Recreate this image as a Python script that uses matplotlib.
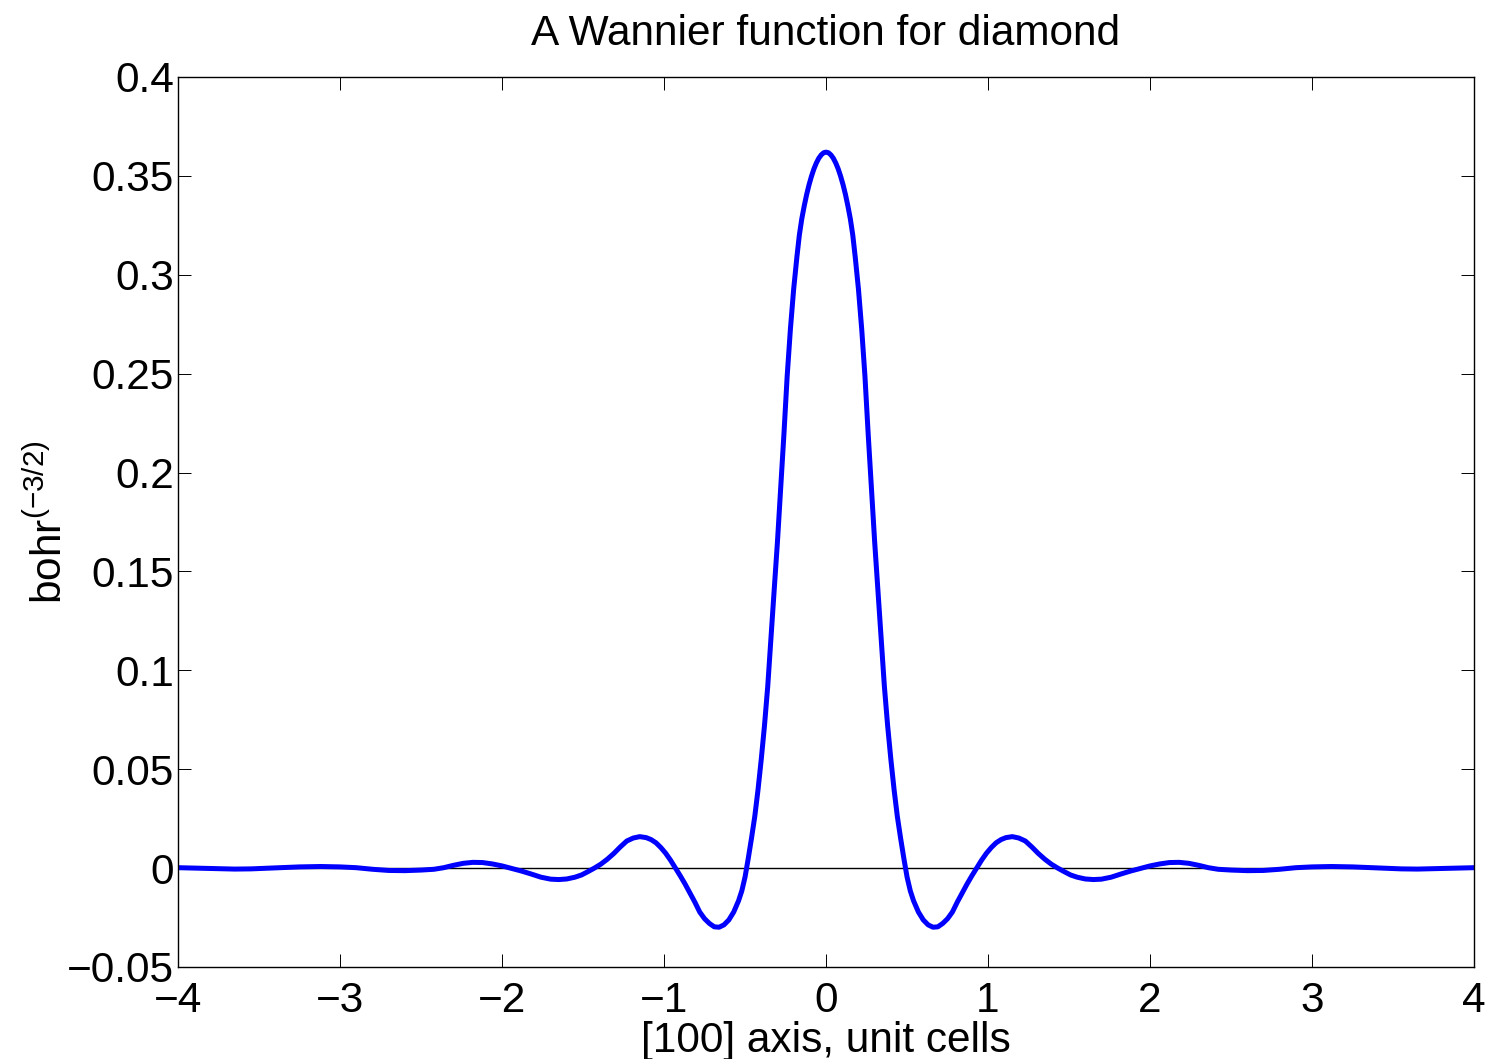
import matplotlib
matplotlib.use("Agg")
import matplotlib.pyplot as plt

# Wannier function values, [100] axis in unit cells
x_right = [0.00, 0.015, 0.03, 0.045, 0.06, 0.075, 0.09, 0.105, 0.12, 0.135,
           0.15, 0.165, 0.18, 0.20, 0.22, 0.24,
           0.26, 0.28, 0.30, 0.32, 0.34, 0.36, 0.38, 0.40, 0.42, 0.44,
           0.46, 0.48, 0.50, 0.52, 0.54, 0.57, 0.60, 0.63, 0.66, 0.69,
           0.72, 0.75, 0.78, 0.81, 0.84, 0.87, 0.90, 0.93, 0.96, 0.99,
           1.02, 1.05, 1.08, 1.11, 1.15, 1.19, 1.23, 1.27, 1.31, 1.35,
           1.39, 1.43, 1.47, 1.51, 1.55, 1.60, 1.65, 1.70, 1.76, 1.82,
           1.88, 1.94, 2.00, 2.06, 2.12, 2.18, 2.24, 2.30, 2.36, 2.42,
           2.50, 2.60, 2.70, 2.80, 2.90, 3.00, 3.12, 3.25, 3.40, 3.55,
           3.65, 3.80, 4.00]
w_right = [0.3620, 0.3617, 0.3606, 0.3589, 0.3565, 0.3535, 0.3498, 0.3455, 0.3405, 0.3347,
           0.3282, 0.3200, 0.3090, 0.2927, 0.2726, 0.2488,
           0.2195, 0.1924, 0.1650, 0.1409, 0.1168, 0.0919, 0.0721, 0.0550, 0.0396, 0.0261,
           0.0152, 0.0050, -0.0045, -0.0115, -0.0165, -0.0222, -0.0262, -0.0287, -0.0299, -0.0297,
           -0.0280, -0.0256, -0.0222, -0.0172, -0.0127, -0.0081, -0.0039, 0.0001, 0.0040, 0.0075,
           0.0104, 0.0128, 0.0144, 0.0154, 0.0159, 0.0152, 0.0137, 0.0107, 0.0074, 0.0045,
           0.0020, 0.0000, -0.0018, -0.0035, -0.0046, -0.0055, -0.0058, -0.0056, -0.0046, -0.0030,
           -0.0015, -0.0002, 0.0011, 0.0021, 0.0028, 0.0029, 0.0024, 0.0014, 0.0002, -0.0006,
           -0.0010, -0.0013, -0.0012, -0.0006, 0.0002, 0.0006, 0.0008, 0.0006, 0.0001, -0.0004,
           -0.0005, -0.0002, 0.0002]

# the curve is symmetric about the origin cell
x_cells = [-v for v in x_right[:0:-1]] + x_right
wannier = w_right[:0:-1] + w_right

x_ticks = [-4, -3, -2, -1, 0, 1, 2, 3, 4]
x_labels = ["\u22124", "\u22123", "\u22122", "\u22121", "0", "1", "2", "3", "4"]
y_ticks = [-0.05, 0, 0.05, 0.1, 0.15, 0.2, 0.25, 0.3, 0.35, 0.4]
y_labels = ["\u22120.05", "0", "0.05", "0.1", "0.15", "0.2", "0.25", "0.3", "0.35", "0.4"]

plt.rcParams["font.family"] = ["Liberation Sans", "DejaVu Sans"]
plt.rcParams["mathtext.fontset"] = "custom"
plt.rcParams["mathtext.rm"] = "Liberation Sans"

fs = 30.5

fig = plt.figure(figsize=(14.9, 10.59), dpi=100)
ax = fig.add_axes([0.1195, 0.0869, 0.8698, 0.8404])

# zero line, then the function
ax.plot([-4, 4], [0, 0], color="black", linewidth=1.0)
ax.plot(x_cells, wannier, color="#0000ff", linewidth=3.6, solid_joinstyle="round")

ax.set_xlim(-4, 4)
ax.set_ylim(-0.05, 0.4)
ax.set_xticks(x_ticks)
ax.set_xticklabels(x_labels)
ax.set_yticks(y_ticks)
ax.set_yticklabels(y_labels)
ax.tick_params(direction="in", length=9.6, width=0.7, labelsize=fs,
               top=True, right=True)
ax.tick_params(axis="x", pad=10)
ax.tick_params(axis="y", pad=3)
for s in ax.spines.values():
    s.set_linewidth(1.0)

ax.set_title("A Wannier function for diamond", fontsize=fs, pad=23)
ax.set_xlabel("[100] axis, unit cells", fontsize=fs, labelpad=0)
ax.set_ylabel("bohr$^{\\mathregular{(\u22123/2)}}$", fontsize=fs, labelpad=-3)

fig.savefig("out.png", dpi=100)
